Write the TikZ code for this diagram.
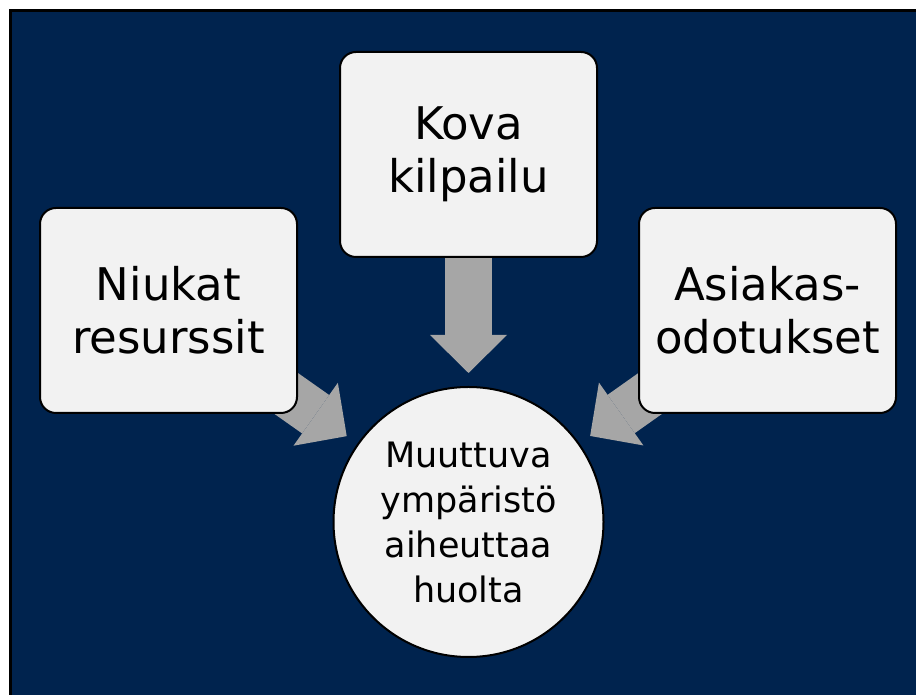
\documentclass[tikz,border=0pt]{standalone}
\usepackage{fontspec}
\setmainfont{DejaVu Sans}
\usepackage{tikz}
\usetikzlibrary{positioning,arrows.meta,backgrounds}
\definecolor{slidenavy}{RGB}{0,35,78}

\begin{document}
\begin{tikzpicture}[x=1pt, y=1pt,
roundnode/.style={circle, draw=black, fill=black!5, line width=2pt, minimum size=270pt, inner sep=0pt, align=center, font=\fontsize{35}{45}\selectfont},
squarednode/.style={rectangle, rounded corners=16pt, draw=black, fill=black!5, line width=2pt, minimum width=257pt, minimum height=205pt, inner sep=0pt, align=center, font=\fontsize{45}{53}\selectfont},
blockarrow/.style={draw=black!35, line width=47pt, -{Triangle[length=38pt, width=77pt, line width=0pt]}, shorten >=13pt},
]
\useasboundingbox (0,0) rectangle (916,695);
%Background
\begin{scope}[on background layer]
\fill[slidenavy] (10.5,0) rectangle (916,684);
\draw[line width=3pt] (10.5,0) -- (10.5,684) -- (916,684);
\end{scope}

%Nodes
\node[roundnode]      (muutos)   at (468.5,173)                    {Muuttuva\\ympäristö\\aiheuttaa\\huolta};
\node[squarednode]    (kova)     [above=128pt of muutos]           {Kova\\kilpailu};
\node[squarednode]    (niukat)   [left=41pt of kova, yshift=-156pt]  {Niukat\\resurssit};
\node[squarednode]    (asiakas)  [right=40pt of kova, yshift=-156pt] {Asiakas-\\odotukset};

%Lines
\begin{scope}[on background layer]
\draw[blockarrow] (kova.center) -- (kova.center |- muutos.north);
\draw[blockarrow] (niukat.center) -- (muutos);
\draw[blockarrow] (asiakas.center) -- (muutos);
\end{scope}
\end{tikzpicture}
\end{document}
